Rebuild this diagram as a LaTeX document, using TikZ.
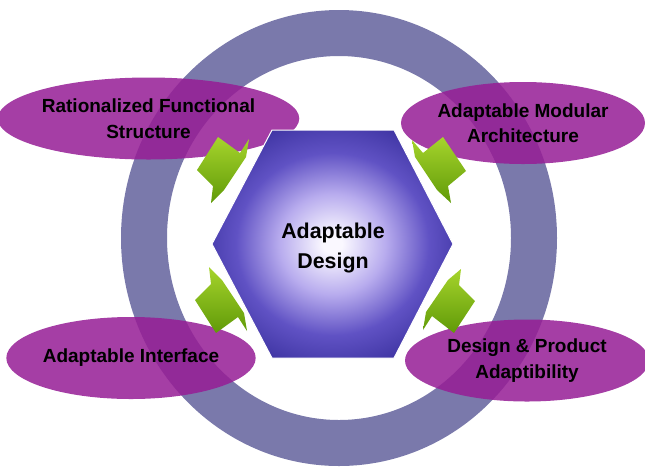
\documentclass[tikz,border=0pt]{standalone}
\usepackage{fontspec}
\setmainfont{Liberation Sans}
\usetikzlibrary{shapes.geometric}
\definecolor{ringcol}{RGB}{122,121,171}
\definecolor{ovalcol}{RGB}{150,30,150}
\definecolor{hexedge}{RGB}{60,50,160}
\definecolor{hexdeep}{RGB}{96,82,196}
\definecolor{hexmid}{RGB}{184,172,238}
\definecolor{hexcenter}{RGB}{250,248,255}
\definecolor{greenlight}{RGB}{166,212,44}
\definecolor{greendark}{RGB}{96,154,8}
\pgfdeclareradialshading{hexglow}{\pgfpoint{0bp}{0bp}}{%
  color(0bp)=(hexcenter); color(2bp)=(hexcenter); color(11bp)=(hexmid);
  color(20bp)=(hexdeep); color(29bp)=(hexedge); color(50bp)=(hexedge)}
\tikzset{
  oval/.style={ellipse, fill=ovalcol, fill opacity=0.86, text opacity=1,
    minimum width=244pt, minimum height=82pt, inner sep=0pt,
    font=\bfseries\fontsize{19}{25.5}\selectfont, align=center},
  pointer/.style={top color=greenlight, bottom color=greendark},
}
\begin{document}
\begin{tikzpicture}[x=1pt,y=-1pt]
\useasboundingbox (0,0) rectangle (645,467);
% surrounding ring
\fill[ringcol, even odd rule] (339,238) ellipse [x radius=218pt, y radius=228pt]
  (339,238) ellipse [x radius=172pt, y radius=182pt];
% four contributing aspects
\node[oval] (e1) at (148.5,118.5) {Rationalized Functional\\Structure};
\node[oval] (e2) at (523,123) {Adaptable Modular\\Architecture};
\node[oval] (e3) at (131,358) {Adaptable Interface};
\node[oval] (e4) at (527,360.5) {Design \& Product\\Adaptibility};
% central hexagon
\coordinate (h1) at (272,130);
\coordinate (h2) at (394,130);
\coordinate (h3) at (453,244);
\coordinate (h4) at (394,358);
\coordinate (h5) at (272,358);
\coordinate (h6) at (212,244);
\shade[shading=hexglow, draw=white, line width=1pt]
  (h1) -- (h2) -- (h3) -- (h4) -- (h5) -- (h6) -- cycle;
\node[font=\bfseries\fontsize{21.4}{29.5}\selectfont, align=center] (core) at (333,248)
  {Adaptable\\Design};
% green pointers, one between each aspect and the hexagon
\shade[pointer] (249,139) -- (246,157) -- (224,190) -- (211,203) -- (213,186)
  -- (197,170) -- (218,137) -- (240,153) -- cycle;
\shade[pointer] (412,140) -- (415,157) -- (437,190) -- (451,203) -- (448,186)
  -- (466,171) -- (443,137) -- (423,153) -- cycle;
\shade[pointer] (247,331) -- (244,313) -- (222,280) -- (209,267) -- (211,284)
  -- (195,300) -- (216,333) -- (238,317) -- cycle;
\shade[pointer] (423,330) -- (426,312) -- (448,280) -- (461,269) -- (459,285)
  -- (475,301) -- (454,333) -- (432,316) -- cycle;
\end{tikzpicture}
\end{document}
